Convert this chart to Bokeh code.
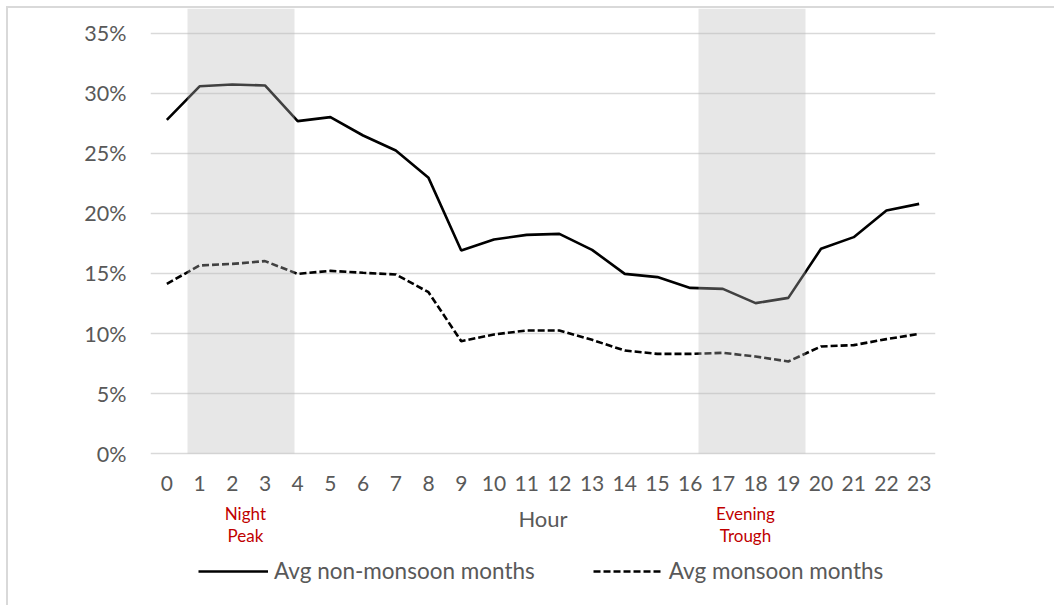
from bokeh.plotting import figure
from bokeh.models import (BoxAnnotation, Label, Legend, LegendItem, FixedTicker,
                          NumeralTickFormatter, Range1d)
from bokeh.embed import file_html
from bokeh.resources import INLINE

hours = list(range(24))
non_monsoon = [0.278, 0.306, 0.3075, 0.3067, 0.277, 0.2803, 0.265, 0.2525, 0.2297,
               0.1692, 0.1783, 0.1822, 0.183, 0.1697, 0.1497, 0.147, 0.138, 0.1372,
               0.1253, 0.1297, 0.1706, 0.1803, 0.2025, 0.208]
monsoon = [0.1414, 0.1567, 0.158, 0.1603, 0.1497, 0.1522, 0.1506, 0.1492, 0.1344,
           0.0936, 0.0992, 0.1025, 0.1025, 0.0947, 0.0858, 0.083, 0.083, 0.0839,
           0.0808, 0.0767, 0.0892, 0.0903, 0.0953, 0.0997]
y_ticks = [0, 0.05, 0.10, 0.15, 0.20, 0.25, 0.30, 0.35]
series_names = ["Avg non-monsoon months", "Avg monsoon months"]
band_labels = [("Night", "Peak"), ("Evening", "Trough")]

FONT = "Lato"
GREY = "#595959"
RED = "#c00000"

W, H = 1048, 599
p = figure(width=W, height=H, output_backend="svg", toolbar_location=None,
           x_range=Range1d(-0.5, 23.5), y_range=Range1d(-0.12833, 0.37083),
           min_border_left=142, min_border_right=121, min_border_top=0,
           min_border_bottom=0, outline_line_color=None,
           background_fill_color="white", border_fill_color="white")
p.styles = {"margin": "6px 0 0 6px",
            "border-left": "2px solid #d9d9d9", "border-top": "2px solid #d9d9d9"}

l1 = p.line(hours, non_monsoon, line_color="black", line_width=2.6)
l2 = p.line(hours, monsoon, line_color="black", line_width=2.6, line_dash="7 3")

# shaded bands (drawn over lines as in the reference)
for left, right in [(0.631, 3.903), (16.254, 19.526)]:
    p.add_layout(BoxAnnotation(left=left, right=right, bottom=0, fill_color="#b9b9b9",
                               fill_alpha=0.35, line_color=None))

# band labels
for xc, (t1, t2) in zip([2.40, 17.69], band_labels):
    p.add_layout(Label(x=xc, y=-0.05, text=t1, text_align="center", text_baseline="middle",
                       text_color=RED, text_font=FONT, text_font_size="17px"))
    p.add_layout(Label(x=xc, y=-0.0683, text=t2, text_align="center", text_baseline="middle",
                       text_color=RED, text_font=FONT, text_font_size="17px"))

# axes
p.xaxis.fixed_location = 0
p.xaxis.ticker = FixedTicker(ticks=hours)
p.xaxis.axis_line_color = None
p.xaxis.major_tick_line_color = None
p.xaxis.minor_tick_line_color = None
p.xaxis.major_label_text_font = FONT
p.xaxis.major_label_text_font_size = "21px"
p.xaxis.major_label_text_color = GREY
p.xaxis.major_label_standoff = 16
p.xaxis.axis_label = "Hour"
p.xaxis.axis_label_text_font = FONT
p.xaxis.axis_label_text_font_size = "22px"
p.xaxis.axis_label_text_font_style = "normal"
p.xaxis.axis_label_text_color = GREY
p.xaxis.axis_label_standoff = 11

p.yaxis.ticker = FixedTicker(ticks=y_ticks)
p.yaxis.formatter = NumeralTickFormatter(format="0%")
p.yaxis.axis_line_color = None
p.yaxis.major_tick_line_color = None
p.yaxis.minor_tick_line_color = None
p.yaxis.major_label_text_font = FONT
p.yaxis.major_label_text_font_size = "21.5px"
p.yaxis.major_label_text_color = GREY
p.yaxis.major_label_standoff = 18

p.xgrid.grid_line_color = None
p.ygrid.ticker = FixedTicker(ticks=y_ticks)
p.ygrid.grid_line_color = "#d9d9d9"
p.ygrid.grid_line_width = 1.5

legend = Legend(items=[LegendItem(label=series_names[0], renderers=[l1]),
                       LegendItem(label=series_names[1], renderers=[l2])],
                location=(48, 23), orientation="horizontal",
                glyph_width=70, glyph_height=20, label_standoff=6, spacing=58,
                padding=0, margin=0, border_line_color=None, background_fill_alpha=0,
                label_text_font=FONT, label_text_font_size="22.5px", label_text_color=GREY)
p.add_layout(legend, "center")

open("out.html", "w").write(file_html(p, INLINE))
